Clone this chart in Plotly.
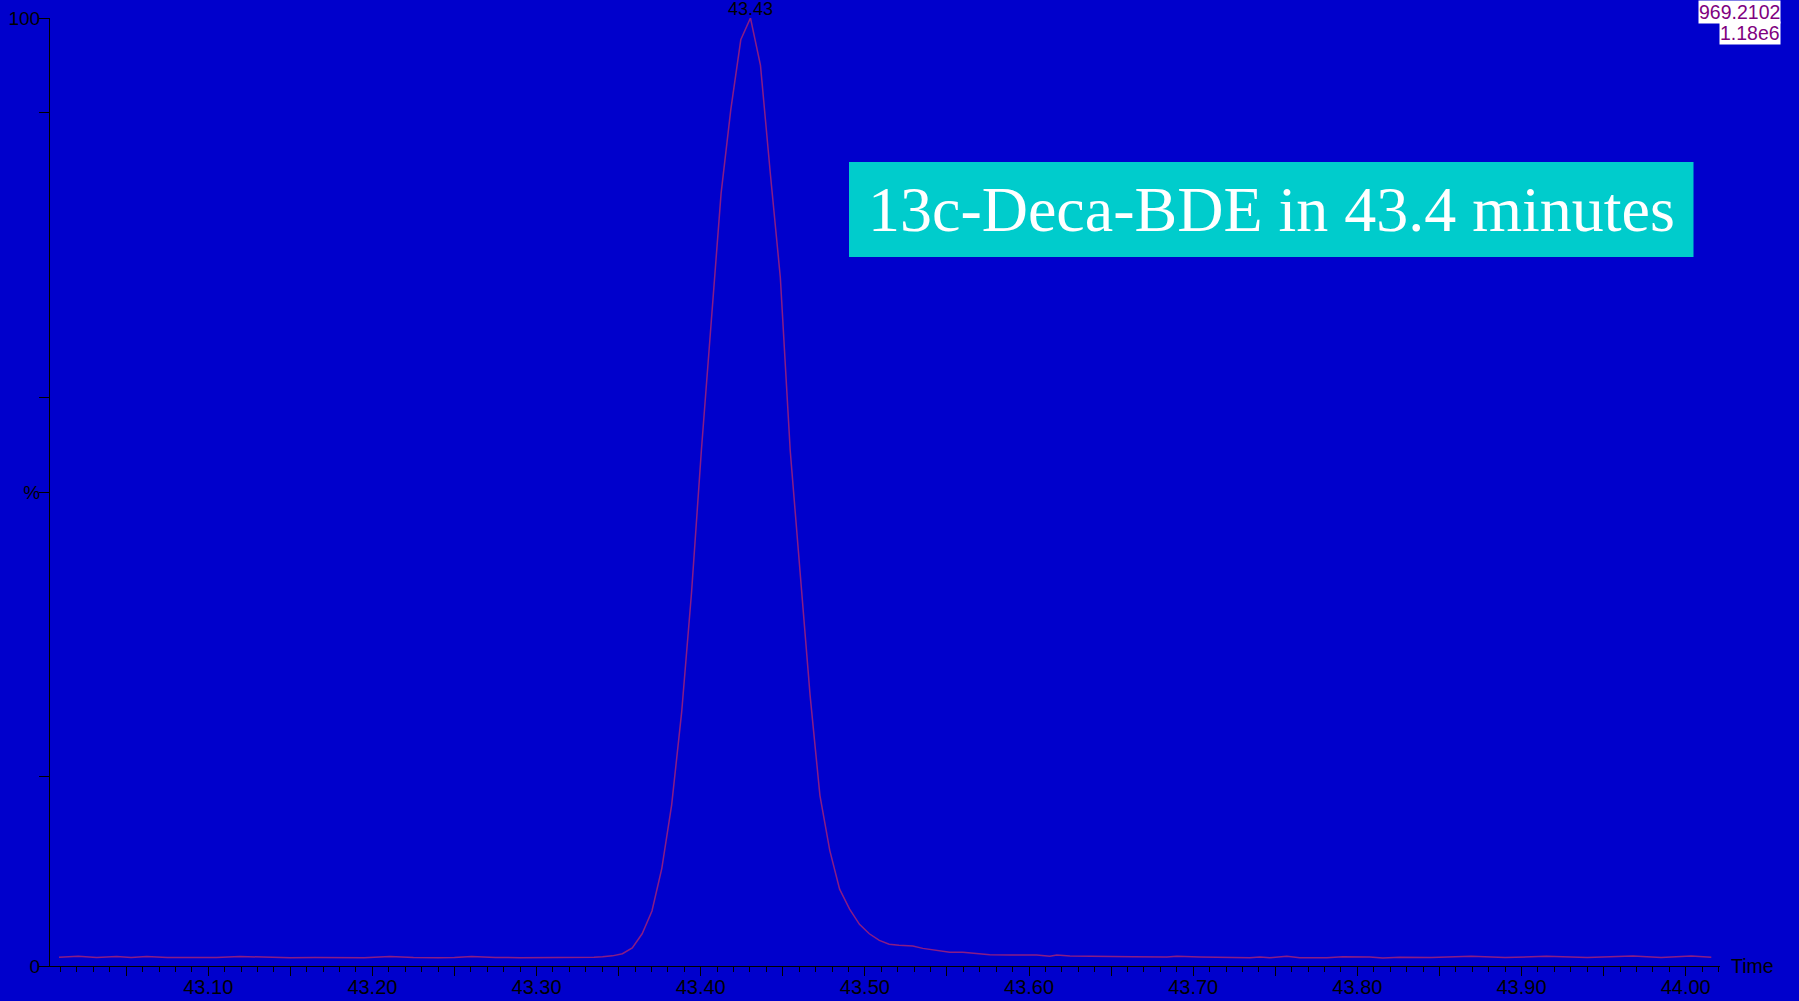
import plotly.graph_objects as go

# ---- data (retention time in minutes, relative intensity %) ----
time_min = [
    43.0091, 43.0208, 43.0320, 43.0442, 43.0530, 43.0625, 43.0750, 43.0900,
    43.1050, 43.1193, 43.1350, 43.1500, 43.1650, 43.1800, 43.1950, 43.2107,
    43.2250, 43.2400, 43.2500, 43.2604, 43.2750, 43.2900, 43.3050, 43.3200,
    43.3350, 43.3402, 43.3462, 43.3523, 43.3583, 43.3643, 43.3703, 43.3763,
    43.3823, 43.3884, 43.3944, 43.4004, 43.4065, 43.4124, 43.4183, 43.4244,
    43.4303, 43.4364, 43.4424, 43.4485, 43.4545, 43.4605, 43.4666, 43.4726,
    43.4786, 43.4846, 43.4907, 43.4967, 43.5027, 43.5088, 43.5148, 43.5208,
    43.5292, 43.5353, 43.5517, 43.5597, 43.5761, 43.5883, 43.6047, 43.6127,
    43.6169, 43.6249, 43.6352, 43.6632, 43.6840, 43.6900, 43.7040, 43.7162,
    43.7345, 43.7406, 43.7467, 43.7570, 43.7649, 43.7814, 43.7911, 43.8075,
    43.8155, 43.8258, 43.8450, 43.8694, 43.8900, 43.9151, 43.9400, 43.9678,
    43.9850, 44.0034, 44.0156,
]
intensity_pct = [
    0.92, 1.02, 0.90, 1.00, 0.90, 1.00, 0.90, 0.88,
    0.90, 1.00, 0.90, 0.88, 0.90, 0.90, 0.88, 1.00,
    0.90, 0.88, 0.90, 1.00, 0.90, 0.88, 0.88, 0.88,
    0.92, 0.97, 1.07, 1.30, 1.90, 3.40, 5.80, 10.3,
    17.0, 26.8, 39.4, 54.4, 67.7, 81.5, 90.3, 97.7,
    100.0, 95.0, 83.6, 72.6, 54.4, 41.1, 28.6, 18.0,
    12.2, 8.1, 6.0, 4.4, 3.4, 2.7, 2.3, 2.2,
    2.1, 1.86, 1.44, 1.44, 1.19, 1.16, 1.16, 1.02,
    1.16, 1.05, 1.05, 0.98, 0.95, 1.02, 0.95, 0.92,
    0.88, 0.95, 0.88, 1.02, 0.88, 0.88, 0.98, 0.95,
    0.84, 0.92, 0.90, 1.02, 0.90, 1.02, 0.90, 1.05,
    0.90, 1.05, 0.92,
]

x_major_ticks = [43.05, 43.10, 43.15, 43.20, 43.25, 43.30, 43.35, 43.40, 43.45,
                 43.50, 43.55, 43.60, 43.65, 43.70, 43.75, 43.80, 43.85, 43.90,
                 43.95, 44.00]
x_major_labels = ["", "43.10", "", "43.20", "", "43.30", "", "43.40", "",
                  "43.50", "", "43.60", "", "43.70", "", "43.80", "", "43.90",
                  "", "44.00"]
y_ticks = [0, 20, 50, 60, 90, 100]
y_tick_labels = ["0", "", "%", "", "", "100"]

peak_label = "43.43"
peak_time = 43.4303
peak_value = 100.0
mass_label = "969.2102"
scale_label = "1.18e6"
axis_title = "Time"
box_text = "13c-Deca-BDE in 43.4 minutes"

# ---- layout geometry (pixels) ----
W, H = 1799, 1001
L, R, T, B = 50, 79, 18, 35
PW, PH = W - L - R, H - T - B


def px_x(px):
    return (px - L) / PW


def px_y(py):
    return (H - B - py) / PH


BG = "#0000CC"
LINE = "#8A1C84"
FONT = "Liberation Sans, Arial, sans-serif"

fig = go.Figure()
fig.add_trace(go.Scatter(
    x=time_min, y=intensity_pct, mode="lines",
    line=dict(color=LINE, width=1.5), hoverinfo="skip", showlegend=False,
))

fig.update_layout(
    width=W, height=H,
    margin=dict(l=L, r=R, t=T, b=B, pad=0),
    paper_bgcolor=BG, plot_bgcolor=BG,
    font=dict(family=FONT, color="black"),
    showlegend=False,
)

fig.update_xaxes(
    range=[43.0036, 44.0209], showgrid=False, zeroline=False,
    showline=True, linecolor="black", linewidth=1,
    tickmode="array", tickvals=x_major_ticks, ticktext=x_major_labels,
    ticks="outside", ticklen=9, tickwidth=1, tickcolor="black",
    tickfont=dict(size=20, family=FONT, color="black"),
    ticklabelstandoff=-6,
    minor=dict(tickmode="linear", tick0=43.0, dtick=0.01, ticks="outside",
               ticklen=5, tickwidth=1, tickcolor="black", showgrid=False),
    automargin=False, fixedrange=True,
)
fig.update_yaxes(
    range=[0, 100], showgrid=False, zeroline=False,
    showline=True, linecolor="black", linewidth=1,
    tickmode="array", tickvals=y_ticks, ticktext=y_tick_labels,
    ticks="outside", ticklen=10, tickwidth=1, tickcolor="black",
    tickfont=dict(size=19, family=FONT, color="black"),
    ticklabelstandoff=-5,
    automargin=False, fixedrange=True,
)

# cyan annotation box
fig.add_shape(
    type="rect", xref="paper", yref="paper",
    x0=px_x(849), x1=px_x(1693.5), y0=px_y(257), y1=px_y(162),
    fillcolor="#00CCCC", line=dict(width=0), layer="above",
)
fig.add_annotation(
    text=box_text, xref="paper", yref="paper",
    x=px_x(1271), y=px_y(210), xanchor="center", yanchor="middle",
    showarrow=False,
    font=dict(family="Liberation Serif, Times New Roman, serif", size=64, color="white"),
)

# peak label
fig.add_annotation(
    text=peak_label, x=peak_time, y=peak_value, xref="x", yref="y",
    xanchor="center", yanchor="bottom", showarrow=False, yshift=-3,
    font=dict(family=FONT, size=18, color="black"),
)

# top-right labels
fig.add_annotation(
    text=mass_label, xref="paper", yref="paper",
    x=px_x(1781), y=px_y(0), xanchor="right", yanchor="top",
    showarrow=False, bgcolor="white", borderpad=0,
    font=dict(family=FONT, size=19.5, color="#800080"),
)
fig.add_annotation(
    text=scale_label, xref="paper", yref="paper",
    x=px_x(1781), y=px_y(21), xanchor="right", yanchor="top",
    showarrow=False, bgcolor="white", borderpad=0,
    font=dict(family=FONT, size=19.5, color="#800080"),
)

# axis title "Time"
fig.add_annotation(
    text=axis_title, xref="paper", yref="paper",
    x=px_x(1729), y=px_y(966), xanchor="left", yanchor="middle",
    showarrow=False,
    font=dict(family=FONT, size=19.5, color="black"),
)

fig.write_html(
    "out.html",
    config={"displayModeBar": False, "staticPlot": True},
    post_script="document.body.style.margin='0';document.body.style.padding='0';",
)
